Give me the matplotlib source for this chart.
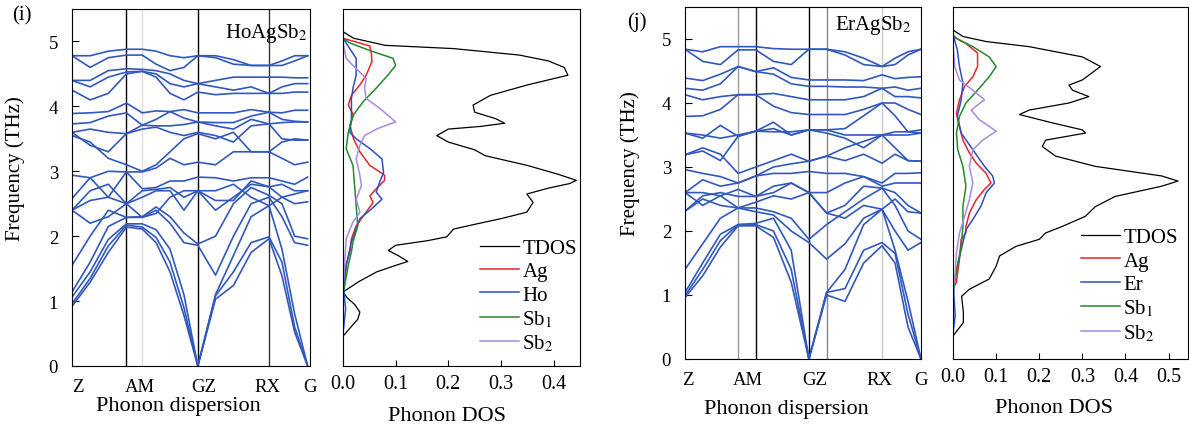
import matplotlib
matplotlib.use('Agg')
import matplotlib.pyplot as plt
import numpy as np

plt.rcParams['font.family'] = ['Liberation Serif', 'DejaVu Serif']
plt.rcParams['mathtext.fontset'] = 'stix'

# ---------------- HoAgSb2 (i) ----------------
k_i = [0, 0.077, 0.154, 0.231, 0.298, 0.357, 0.416, 0.475, 0.534, 0.609, 0.685, 0.760, 0.836, 0.891, 0.945, 1.0]
vlines_i = [(0.231, 'black'), (0.298, '#dddddd'), (0.534, 'black'), (0.836, '#333333')]
bands_i = [
    [0.92, 1.29, 1.75, 2.14, 2.11, 1.90, 1.45, 0.78, 0.00, 1.03, 1.24, 1.75, 1.96, 1.39, 0.52, 0.00],
    [0.96, 1.35, 1.85, 2.17, 2.14, 1.98, 1.60, 0.90, 0.00, 1.08, 1.45, 1.90, 1.99, 1.60, 0.60, 0.00],
    [1.06, 1.45, 1.95, 2.19, 2.19, 2.10, 1.80, 1.10, 0.00, 1.10, 1.70, 2.30, 2.47, 1.80, 0.80, 0.00],
    [1.14, 1.60, 2.15, 2.29, 2.29, 2.40, 2.20, 1.90, 1.86, 1.40, 2.00, 2.50, 2.60, 2.30, 1.90, 1.86],
    [1.55, 2.00, 2.40, 2.29, 2.30, 2.45, 2.30, 2.05, 1.88, 2.00, 2.50, 2.75, 2.63, 2.50, 2.00, 1.96],
    [2.40, 2.55, 2.60, 2.50, 2.60, 2.70, 2.70, 2.40, 2.70, 2.40, 2.60, 2.80, 2.76, 2.60, 2.50, 2.53],
    [2.40, 2.70, 2.80, 2.50, 2.70, 2.72, 2.75, 2.60, 2.70, 2.55, 2.55, 2.85, 2.76, 2.80, 2.70, 2.70],
    [2.58, 2.90, 2.60, 2.99, 2.73, 2.75, 2.85, 2.85, 2.91, 2.90, 2.85, 2.90, 2.90, 2.85, 2.80, 2.91],
    [2.94, 2.90, 3.00, 2.99, 2.99, 3.05, 3.20, 3.10, 3.14, 3.10, 3.30, 3.30, 3.30, 3.20, 3.10, 3.14],
    [3.55, 3.45, 3.20, 3.10, 3.00, 3.10, 3.30, 3.50, 3.58, 3.50, 3.60, 3.30, 3.30, 3.45, 3.50, 3.48],
    [3.60, 3.40, 3.30, 3.58, 3.65, 3.68, 3.60, 3.55, 3.60, 3.55, 3.45, 3.70, 3.73, 3.50, 3.48, 3.48],
    [3.60, 3.65, 3.60, 3.58, 3.71, 3.70, 3.70, 3.72, 3.76, 3.70, 3.65, 3.80, 3.73, 3.75, 3.76, 3.76],
    [3.73, 3.75, 3.85, 3.90, 3.71, 3.80, 3.92, 3.82, 3.76, 3.75, 3.75, 3.85, 3.91, 3.80, 3.77, 3.76],
    [3.89, 3.90, 3.92, 4.05, 3.90, 3.93, 3.92, 3.95, 3.90, 3.90, 3.90, 3.95, 3.91, 3.90, 3.94, 3.94],
    [4.25, 4.10, 4.20, 4.50, 4.54, 4.45, 4.20, 4.10, 4.22, 4.18, 4.20, 4.20, 4.20, 4.20, 4.22, 4.22],
    [4.40, 4.30, 4.45, 4.53, 4.54, 4.50, 4.35, 4.30, 4.35, 4.30, 4.25, 4.30, 4.20, 4.30, 4.35, 4.35],
    [4.40, 4.40, 4.55, 4.58, 4.57, 4.55, 4.50, 4.40, 4.35, 4.40, 4.45, 4.45, 4.45, 4.45, 4.44, 4.44],
    [4.78, 4.60, 4.75, 4.79, 4.79, 4.65, 4.55, 4.60, 4.78, 4.75, 4.65, 4.63, 4.63, 4.63, 4.70, 4.78],
    [4.78, 4.78, 4.85, 4.88, 4.88, 4.85, 4.78, 4.75, 4.78, 4.78, 4.72, 4.63, 4.63, 4.70, 4.78, 4.78],
    [2.40, 2.20, 2.30, 2.50, 2.29, 2.35, 2.60, 2.70, 2.70, 2.70, 2.80, 2.60, 2.47, 2.60, 2.65, 2.70],
]

tdos_i_f = [0.46, 0.60, 0.72, 0.83, 0.95, 1.05, 1.14, 1.30, 1.45, 1.55, 1.61, 1.70, 1.78, 1.86, 1.93, 1.99,
            2.11, 2.20, 2.27, 2.37, 2.52, 2.65, 2.74, 2.81, 2.86, 2.95, 3.09, 3.24, 3.33, 3.45, 3.55, 3.65,
            3.69, 3.74, 3.81, 3.91, 4.02, 4.17, 4.33, 4.48, 4.60, 4.70, 4.79, 4.89, 4.94, 5.05, 5.15]
tdos_i = [0.0, 0.015, 0.028, 0.032, 0.022, 0.008, 0.0, 0.03, 0.064, 0.10, 0.123, 0.105, 0.086, 0.10, 0.16, 0.197,
          0.21, 0.26, 0.30, 0.349, 0.361, 0.349, 0.39, 0.43, 0.443, 0.41, 0.35, 0.27, 0.25, 0.20, 0.178, 0.20,
          0.26, 0.307, 0.29, 0.25, 0.247, 0.28, 0.35, 0.427, 0.42, 0.39, 0.335, 0.21, 0.08, 0.02, 0.0]
ag_i_f = [1.10, 1.24, 1.55, 1.76, 1.96, 2.16, 2.37, 2.52, 2.62, 2.73, 2.86, 2.94, 3.09, 3.30, 3.50, 3.71, 3.86,
          4.02, 4.17, 4.33, 4.48, 4.69, 4.80, 4.93, 5.05]
ag_i = [0.0, 0.002, 0.006, 0.013, 0.016, 0.025, 0.044, 0.057, 0.051, 0.063, 0.079, 0.079, 0.051, 0.032, 0.02,
        0.013, 0.02, 0.01, 0.016, 0.032, 0.044, 0.055, 0.054, 0.051, 0.0]
ho_i_f = [0.50, 0.88, 1.10, 1.29, 1.55, 1.91, 2.11, 2.27, 2.44, 2.57, 2.68, 2.86, 2.98, 3.19, 3.35, 3.50, 3.60,
          3.81, 4.12, 4.28, 4.48, 4.74, 4.90, 5.05]
ho_i = [0.0, 0.005, 0.002, 0.003, 0.006, 0.016, 0.025, 0.032, 0.057, 0.074, 0.063, 0.071, 0.077, 0.074, 0.051,
        0.025, 0.013, 0.016, 0.016, 0.019, 0.025, 0.025, 0.012, 0.0]
sb1_i_f = [1.10, 1.24, 1.55, 1.76, 1.91, 2.16, 2.47, 2.78, 3.09, 3.35, 3.60, 3.86, 4.07, 4.28, 4.48, 4.63, 4.74,
           4.86, 4.98, 5.05]
sb1_i = [0.0, 0.003, 0.01, 0.016, 0.019, 0.028, 0.025, 0.022, 0.019, 0.006, 0.01, 0.019, 0.038, 0.063, 0.085,
         0.10, 0.095, 0.051, 0.012, 0.0]
sb2_i_f = [1.20, 1.55, 1.96, 2.22, 2.37, 2.57, 2.78, 2.94, 3.19, 3.40, 3.55, 3.66, 3.76, 3.97, 4.12, 4.28, 4.43,
           4.63, 4.74, 4.90, 5.00]
sb2_i = [0.0, 0.003, 0.006, 0.019, 0.032, 0.025, 0.035, 0.032, 0.025, 0.032, 0.041, 0.066, 0.10, 0.07, 0.044,
         0.041, 0.044, 0.019, 0.006, 0.002, 0.0]

# ---------------- ErAgSb2 (j) ----------------
k_j = [0, 0.075, 0.15, 0.225, 0.30, 0.375, 0.45, 0.525, 0.60, 0.678, 0.757, 0.835, 0.89, 0.945, 1.0]
vlines_j = [(0.225, '#999999'), (0.30, 'black'), (0.525, 'black'), (0.60, '#888888'), (0.835, '#cccccc')]
bands_j = [
    [0.96, 1.30, 1.75, 2.08, 2.08, 1.90, 1.20, 0.00, 1.00, 0.90, 1.50, 1.77, 1.50, 0.50, 0.00],
    [0.99, 1.40, 1.85, 2.10, 2.10, 2.00, 1.40, 0.00, 1.04, 1.10, 1.70, 1.82, 1.65, 0.70, 0.00],
    [1.04, 1.50, 1.95, 2.10, 2.12, 2.20, 1.70, 0.00, 1.04, 1.40, 2.10, 2.34, 1.70, 0.90, 0.00],
    [1.40, 1.80, 2.20, 2.36, 2.30, 2.25, 2.00, 1.82, 1.56, 1.80, 2.20, 2.34, 2.00, 1.70, 1.82],
    [2.31, 2.50, 2.40, 2.36, 2.36, 2.30, 2.20, 1.87, 2.10, 2.30, 2.50, 2.67, 2.40, 2.00, 1.87],
    [2.31, 2.55, 2.60, 2.54, 2.54, 2.70, 2.75, 2.60, 2.28, 2.40, 2.70, 2.67, 2.60, 2.40, 2.28],
    [2.60, 2.60, 2.55, 2.65, 2.54, 2.60, 2.75, 2.60, 2.60, 2.75, 2.85, 2.70, 2.75, 2.75, 2.75],
    [2.60, 2.80, 2.70, 2.75, 2.86, 2.90, 2.90, 2.93, 2.90, 2.90, 2.85, 2.75, 2.90, 2.90, 2.91],
    [2.96, 2.90, 2.85, 2.75, 2.86, 3.00, 3.05, 3.09, 3.17, 3.10, 3.20, 3.06, 3.20, 3.10, 3.09],
    [3.19, 3.30, 3.20, 2.90, 3.00, 3.10, 3.20, 3.09, 3.17, 3.30, 3.40, 3.50, 3.30, 3.10, 3.09],
    [3.19, 3.25, 3.10, 3.48, 3.56, 3.60, 3.50, 3.58, 3.53, 3.45, 3.30, 3.50, 3.50, 3.50, 3.53],
    [3.53, 3.45, 3.65, 3.48, 3.56, 3.70, 3.50, 3.58, 3.58, 3.50, 3.50, 3.50, 3.55, 3.55, 3.58],
    [3.53, 3.50, 3.45, 3.50, 3.56, 3.55, 3.55, 3.58, 3.58, 3.60, 3.80, 4.00, 3.80, 3.55, 3.53],
    [3.79, 3.80, 3.90, 4.13, 4.13, 3.95, 3.85, 3.82, 3.82, 3.82, 3.90, 4.00, 4.00, 3.90, 3.82],
    [4.13, 4.05, 4.10, 4.13, 4.13, 4.15, 4.10, 4.05, 4.05, 4.05, 4.10, 4.23, 4.10, 4.10, 4.08],
    [4.23, 4.20, 4.30, 4.57, 4.49, 4.45, 4.30, 4.26, 4.26, 4.25, 4.25, 4.23, 4.25, 4.20, 4.23],
    [4.39, 4.35, 4.45, 4.57, 4.49, 4.55, 4.40, 4.36, 4.36, 4.36, 4.35, 4.44, 4.38, 4.40, 4.41],
    [4.84, 4.65, 4.60, 4.83, 4.83, 4.65, 4.60, 4.84, 4.84, 4.75, 4.60, 4.57, 4.60, 4.75, 4.84],
    [4.84, 4.80, 4.88, 4.88, 4.88, 4.85, 4.84, 4.84, 4.84, 4.80, 4.70, 4.57, 4.70, 4.80, 4.84],
    [2.60, 2.40, 2.55, 2.36, 2.45, 2.55, 2.50, 2.60, 2.28, 2.20, 2.40, 2.34, 2.50, 2.30, 2.28],
]

tdos_j_f = [0.36, 0.57, 0.73, 0.98, 1.09, 1.25, 1.45, 1.61, 1.76, 1.87, 1.97, 2.07, 2.23, 2.38, 2.54, 2.70,
            2.78, 2.86, 3.01, 3.17, 3.32, 3.42, 3.53, 3.58, 3.69, 3.82, 3.89, 4.00, 4.10, 4.20, 4.28, 4.36,
            4.57, 4.72, 4.88, 4.96, 5.04, 5.14]
tdos_j = [0.0, 0.024, 0.024, 0.02, 0.038, 0.084, 0.10, 0.108, 0.146, 0.20, 0.215, 0.253, 0.307, 0.33, 0.376,
          0.484, 0.522, 0.484, 0.33, 0.238, 0.207, 0.215, 0.307, 0.30, 0.23, 0.154, 0.177, 0.269, 0.315, 0.277,
          0.269, 0.30, 0.342, 0.30, 0.177, 0.077, 0.023, 0.0]
ag_j_f = [1.10, 1.20, 1.56, 1.87, 1.97, 2.07, 2.28, 2.49, 2.65, 2.75, 2.90, 3.06, 3.22, 3.42, 3.63, 3.84, 4.05,
          4.26, 4.41, 4.57, 4.78, 4.93, 5.04]
ag_j = [0.0, 0.008, 0.015, 0.019, 0.03, 0.03, 0.038, 0.054, 0.073, 0.088, 0.077, 0.054, 0.038, 0.023, 0.015,
        0.008, 0.015, 0.027, 0.046, 0.057, 0.057, 0.03, 0.0]
er_j_f = [0.40, 0.68, 1.00, 1.14, 1.45, 1.82, 2.02, 2.18, 2.39, 2.60, 2.75, 2.86, 3.01, 3.27, 3.53, 3.79, 4.05,
          4.31, 4.57, 4.83, 5.00, 5.09]
er_j = [0.0, 0.005, 0.002, 0.002, 0.01, 0.023, 0.03, 0.046, 0.065, 0.077, 0.096, 0.092, 0.073, 0.046, 0.019,
        0.01, 0.019, 0.023, 0.015, 0.01, 0.003, 0.0]
sb1_j_f = [1.05, 1.14, 1.45, 1.76, 2.07, 2.39, 2.70, 3.01, 3.27, 3.53, 3.79, 4.00, 4.20, 4.41, 4.57, 4.72, 4.88,
           5.00, 5.06]
sb1_j = [0.0, 0.002, 0.01, 0.019, 0.023, 0.023, 0.03, 0.023, 0.011, 0.008, 0.015, 0.03, 0.057, 0.084, 0.10,
         0.084, 0.046, 0.01, 0.0]
sb2_j_f = [1.10, 1.25, 1.66, 1.97, 2.23, 2.49, 2.75, 3.01, 3.27, 3.42, 3.56, 3.74, 3.89, 4.05, 4.20, 4.36, 4.57,
           4.75, 4.90]
sb2_j = [0.0, 0.004, 0.008, 0.015, 0.027, 0.038, 0.046, 0.038, 0.046, 0.069, 0.10, 0.061, 0.042, 0.073, 0.046,
         0.015, 0.004, 0.002, 0.0]

band_color = '#3158bd'
dos_colors = ['black', '#e8262a', '#2c4fc4', '#238a2a', '#a68be0']


def dispersion(ax, k, bands, vlines, name, ticks):
    for b in bands:
        ax.plot(k, b, color=band_color, linewidth=1.2)
    for x, c in vlines:
        ax.axvline(x, color=c, linewidth=1.0, zorder=0.5)
    ax.set_xlim(0, 1)
    ax.set_ylim(0, 5.5)
    ax.set_yticks([0, 1, 2, 3, 4, 5])
    ax.tick_params(axis='y', direction='in', length=5, labelsize=13.5, pad=10)
    ax.set_xticks(ticks)
    ax.set_xticklabels(['Z', 'AM', 'GZ', 'RX', 'G'])
    ax.tick_params(axis='x', length=0, labelsize=13.5, pad=9)
    ax.set_ylabel('Frequency (THz)', fontsize=15)
    ax.set_xlabel('Phonon dispersion', fontsize=16)
    ax.text(0.99, 0.935, name, transform=ax.transAxes, ha='right', va='center', fontsize=15)


def dos(ax, curves, labels, xmax, xticks, anchor):
    for (f, d), c, lab in zip(curves, dos_colors, labels):
        lw = 0.9 if c == 'black' else 1.1
        ax.plot(d, f, color=c, linewidth=lw, label=lab)
    ax.set_ylim(0, 5.5)
    ax.set_xlim(0, xmax)
    ax.set_yticks([])
    ax.set_xticks(xticks)
    ax.set_xticklabels(['%.1f' % t for t in xticks])
    ax.tick_params(axis='x', direction='in', length=4, labelsize=14.5, pad=6)
    ax.set_xlabel('Phonon DOS', fontsize=16)
    ax.legend(loc='lower right', bbox_to_anchor=anchor, frameon=False, fontsize=15,
              handlelength=1.9, handletextpad=0.15, labelspacing=0.18, borderaxespad=0.2)


W, H = 1189, 427
fig = plt.figure(figsize=(W / 100, H / 100), dpi=100)

ax1 = fig.add_axes([72 / W, 60 / H, 238 / W, 357 / H])
ax2 = fig.add_axes([343 / W, 60 / H, 237 / W, 357 / H])
ax3 = fig.add_axes([685 / W, 67 / H, 236 / W, 352 / H])
ax4 = fig.add_axes([953 / W, 67 / H, 235 / W, 352 / H])

dispersion(ax1, k_i, bands_i, vlines_i, r'HoAgSb$_2$', [0.025, 0.286, 0.559, 0.828, 1.01])
dispersion(ax3, k_j, bands_j, vlines_j, r'ErAgSb$_2$', [0.01, 0.267, 0.55, 0.826, 1.0])
ax3.texts[0].set_position((0.96, 0.95))

dos(ax2, [(tdos_i_f, tdos_i), (ag_i_f, ag_i), (ho_i_f, ho_i), (sb1_i_f, sb1_i), (sb2_i_f, sb2_i)],
    ['TDOS', 'Ag', 'Ho', r'Sb$_1$', r'Sb$_2$'], 0.45, [0.0, 0.1, 0.2, 0.3, 0.4], (1.04, 0.0))
dos(ax4, [(tdos_j_f, tdos_j), (ag_j_f, ag_j), (er_j_f, er_j), (sb1_j_f, sb1_j), (sb2_j_f, sb2_j)],
    ['TDOS', 'Ag', 'Er', r'Sb$_1$', r'Sb$_2$'], 0.545, [0.0, 0.1, 0.2, 0.3, 0.4, 0.5], (1.01, 0.01))

ax1.yaxis.set_label_coords(-0.197, 0.555)
ax3.yaxis.set_label_coords(-0.19, 0.557)
ax1.xaxis.set_label_coords(0.445, -0.085)
ax3.xaxis.set_label_coords(0.428, -0.115)
ax2.xaxis.set_label_coords(0.44, -0.112)
ax4.xaxis.set_label_coords(0.43, -0.11)

fig.text(22 / W, 1 - 16 / H, '(i)', fontsize=15, ha='center', va='center')
fig.text(637 / W, 1 - 22 / H, '(j)', fontsize=15, ha='center', va='center')

fig.savefig('out.png', dpi=100)
